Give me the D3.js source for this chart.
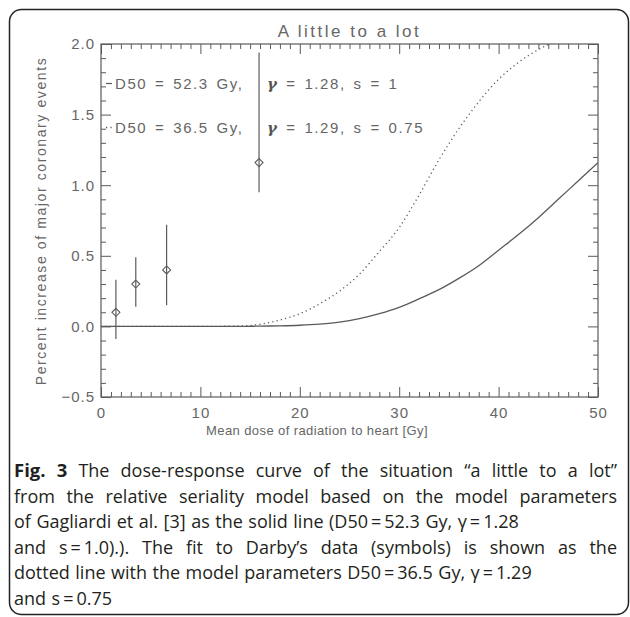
<!DOCTYPE html>
<html>
<head>
<meta charset="utf-8">
<script src="https://cdn.jsdelivr.net/npm/d3@7"></script>
<style>
  body { margin: 0; background: #fff; }
  svg { display: block; }
</style>
</head>
<body>
<div id="wrapper"></div>
<script>
// tick labels
const xTicks = [0, 10, 20, 30, 40, 50]
const yTicks = [-0.5, 0, 0.5, 1.0, 1.5, 2.0]

// Darby's data (symbols with error bars)
const pointDose = [1.5, 3.5, 6.6, 15.9]
const pointValue = [0.10, 0.30, 0.40, 1.16]
const pointLow = [-0.09, 0.14, 0.15, 0.95]
const pointHigh = [0.33, 0.49, 0.72, 1.94]

// model curves
const curveDose = [0, 5, 10, 14, 16, 18, 20, 22, 24, 26, 28, 30, 32, 34, 36, 38, 40, 42, 44, 46, 48, 50]
const solidValue = [0, 0, 0, 0, 0.002, 0.004, 0.008, 0.016, 0.03, 0.055, 0.09, 0.135, 0.195, 0.26, 0.34, 0.43, 0.54, 0.65, 0.77, 0.90, 1.03, 1.16]
const dottedValue = [0, 0, 0, 0.003, 0.015, 0.045, 0.09, 0.16, 0.25, 0.37, 0.53, 0.70, 0.93, 1.18, 1.40, 1.59, 1.75, 1.87, 1.96, 2.03, 2.09, 2.14]

const legendLeft = ["D50 = 52.3 Gy,", "D50 = 36.5 Gy,"]
const legendGamma = [" = 1.28, s = 1", " = 1.29, s = 0.75"]

const captionLines = [
  "Fig. 3 The dose-response curve of the situation “a little to a lot”",
  "from the relative seriality model based on the model parameters",
  "of Gagliardi et al. [3] as the solid line (D50\u2009=\u200952.3 Gy, γ\u2009=\u20091.28",
  "and s\u2009=\u20091.0).). The fit to Darby’s data (symbols) is shown as the",
  "dotted line with the model parameters D50\u2009=\u200936.5 Gy, γ\u2009=\u20091.29",
  "and s\u2009=\u20090.75",
]
const captionJustify = [true, true, false, true, false, false]

function drawChart() {
  const width = 630
  const height = 617
  const plot = { left: 101, right: 598, top: 44, bottom: 397 }
  const ink = "#5a5a5a"
  const textInk = "#666"
  const plotFont = "'Liberation Sans', Arial, sans-serif"

  const svg = d3.select("#wrapper")
    .append("svg")
      .attr("width", width)
      .attr("height", height)

  // rounded outer box
  svg.append("rect")
    .attr("x", 9.5)
    .attr("y", 9.5)
    .attr("width", 619)
    .attr("height", 605)
    .attr("rx", 12)
    .attr("fill", "none")
    .attr("stroke", "#222")
    .attr("stroke-width", 1.5)

  const xScale = d3.scaleLinear().domain([0, 50]).range([plot.left, plot.right])
  const yScale = d3.scaleLinear().domain([-0.5, 2.0]).range([plot.bottom, plot.top])

  const xMinor = d3.range(0, 51, 1).filter(v => v % 10 !== 0)
  const yMinor = d3.range(-5, 21, 1).filter(v => v % 5 !== 0).map(v => v / 10)

  const styleAxis = g => {
    g.select(".domain").remove()
    g.selectAll("line").attr("stroke", ink)
    g.selectAll("text")
      .attr("fill", textInk)
      .style("font-family", plotFont)
      .style("font-size", "15px")
      .style("letter-spacing", "1px")
  }

  // bottom / top axes
  svg.append("g")
      .attr("transform", `translate(0,${plot.bottom})`)
      .call(d3.axisBottom(xScale).tickValues(xTicks).tickSizeInner(-10).tickSizeOuter(0).tickPadding(10))
      .call(styleAxis)
  svg.append("g")
      .attr("transform", `translate(0,${plot.bottom})`)
      .call(d3.axisBottom(xScale).tickValues(xMinor).tickSize(-5).tickFormat(""))
      .call(styleAxis)
  svg.append("g")
      .attr("transform", `translate(0,${plot.top})`)
      .call(d3.axisTop(xScale).tickValues(xTicks).tickSize(-10).tickFormat(""))
      .call(styleAxis)
  svg.append("g")
      .attr("transform", `translate(0,${plot.top})`)
      .call(d3.axisTop(xScale).tickValues(xMinor).tickSize(-5).tickFormat(""))
      .call(styleAxis)

  // left / right axes
  svg.append("g")
      .attr("transform", `translate(${plot.left},0)`)
      .call(d3.axisLeft(yScale).tickValues(yTicks).tickSizeInner(-10).tickSizeOuter(0).tickPadding(6).tickFormat(d3.format(".1f")))
      .call(styleAxis)
  svg.append("g")
      .attr("transform", `translate(${plot.left},0)`)
      .call(d3.axisLeft(yScale).tickValues(yMinor).tickSize(-5).tickFormat(""))
      .call(styleAxis)
  svg.append("g")
      .attr("transform", `translate(${plot.right},0)`)
      .call(d3.axisRight(yScale).tickValues(yTicks).tickSize(-10).tickFormat(""))
      .call(styleAxis)
  svg.append("g")
      .attr("transform", `translate(${plot.right},0)`)
      .call(d3.axisRight(yScale).tickValues(yMinor).tickSize(-5).tickFormat(""))
      .call(styleAxis)

  // plot frame
  svg.append("rect")
    .attr("x", plot.left)
    .attr("y", plot.top)
    .attr("width", plot.right - plot.left)
    .attr("height", plot.bottom - plot.top)
    .attr("fill", "none")
    .attr("stroke", ink)
    .attr("stroke-width", 1.2)

  svg.append("clipPath")
      .attr("id", "plot-clip")
    .append("rect")
      .attr("x", plot.left)
      .attr("y", plot.top)
      .attr("width", plot.right - plot.left)
      .attr("height", plot.bottom - plot.top)

  // curves
  const curveLine = d3.line()
    .x((d, i) => xScale(curveDose[i]))
    .y(d => yScale(d))
    .curve(d3.curveMonotoneX)

  svg.append("path")
    .attr("d", curveLine(solidValue))
    .attr("clip-path", "url(#plot-clip)")
    .attr("fill", "none")
    .attr("stroke", ink)
    .attr("stroke-width", 1.3)

  svg.append("path")
    .attr("d", curveLine(dottedValue))
    .attr("clip-path", "url(#plot-clip)")
    .attr("fill", "none")
    .attr("stroke", ink)
    .attr("stroke-width", 1.3)
    .attr("stroke-dasharray", "1.2,3.2")

  // error bars and diamonds
  const points = svg.append("g")
  points.selectAll(".err")
    .data(pointDose)
    .join("line")
      .attr("x1", d => xScale(d))
      .attr("x2", d => xScale(d))
      .attr("y1", (d, i) => yScale(pointLow[i]))
      .attr("y2", (d, i) => yScale(pointHigh[i]))
      .attr("stroke", ink)
      .attr("stroke-width", 1.2)

  points.selectAll(".diamond")
    .data(pointDose)
    .join("path")
      .attr("d", (d, i) => {
        const cx = xScale(d), cy = yScale(pointValue[i]), r = 4
        return `M${cx},${cy - r}L${cx + r},${cy}L${cx},${cy + r}L${cx - r},${cy}Z`
      })
      .attr("fill", "none")
      .attr("stroke", ink)
      .attr("stroke-width", 1.1)

  // legend
  const legendY = [89, 133]
  svg.append("line")
    .attr("x1", 106).attr("x2", 112)
    .attr("y1", legendY[0] - 5.5).attr("y2", legendY[0] - 5.5)
    .attr("stroke", ink).attr("stroke-width", 1.2)
  svg.append("line")
    .attr("x1", 106).attr("x2", 114)
    .attr("y1", legendY[1] - 5.5).attr("y2", legendY[1] - 5.5)
    .attr("stroke", ink).attr("stroke-width", 1.3)
    .attr("stroke-dasharray", "1.2,3.2")

  const legendStyle = t => t
    .attr("fill", textInk)
    .style("font-family", plotFont)
    .style("font-size", "15px")
    .style("letter-spacing", "1.6px")
    .style("word-spacing", "2px")

  legendLeft.forEach((t, i) => {
    svg.append("text")
      .attr("x", 115)
      .attr("y", legendY[i])
      .call(legendStyle)
      .text(t)
  })
  legendGamma.forEach((t, i) => {
    const txt = svg.append("text")
      .attr("x", 267)
      .attr("y", legendY[i])
      .call(legendStyle)
    txt.append("tspan")
      .style("font-family", "'DejaVu Serif', serif")
      .style("font-style", "italic")
      .style("font-weight", "bold")
      .style("font-size", "15px")
      .attr("fill", "#555")
      .text("γ")
    txt.append("tspan").text(t)
  })

  // titles
  svg.append("text")
    .attr("x", (plot.left + plot.right) / 2)
    .attr("y", 37)
    .attr("text-anchor", "middle")
    .attr("fill", textInk)
    .style("font-family", plotFont)
    .style("font-size", "17px")
    .style("letter-spacing", "2.5px")
    .text("A little to a lot")

  svg.append("text")
    .attr("x", 317)
    .attr("y", 435)
    .attr("text-anchor", "middle")
    .attr("fill", textInk)
    .style("font-family", plotFont)
    .style("font-size", "13px")
    .style("letter-spacing", "0.4px")
    .text("Mean dose of radiation to heart [Gy]")

  svg.append("text")
    .attr("transform", `translate(46,221) rotate(-90)`)
    .attr("text-anchor", "middle")
    .attr("fill", textInk)
    .style("font-family", plotFont)
    .style("font-size", "14px")
    .style("letter-spacing", "1.6px")
    .text("Percent increase of major coronary events")

  // caption, justified like the journal layout
  const capLeft = 14
  const capRight = 617
  const capFont = "'Open Sans', 'Noto Sans', sans-serif"
  captionLines.forEach((line, li) => {
    const y = 477 + li * 25.6
    const words = line.split(" ")
    const g = svg.append("g")
    const nodes = words.map((w, wi) => {
      const bold = li === 0 && wi < 2
      return g.append("text")
        .attr("y", y)
        .attr("fill", "#231f20")
        .style("font-family", capFont)
        .style("font-size", bold ? "18.5px" : "18px")
        .style("font-weight", bold ? "700" : "400")
        .text(w)
    })
    const widths = nodes.map(n => n.node().getComputedTextLength())
    const total = d3.sum(widths)
    const gap = captionJustify[li]
      ? (capRight - capLeft - total) / (words.length - 1)
      : 5.5
    let x = capLeft
    nodes.forEach((n, i) => {
      n.attr("x", x)
      x += widths[i] + gap
    })
  })
}

drawChart()
</script>
</body>
</html>
